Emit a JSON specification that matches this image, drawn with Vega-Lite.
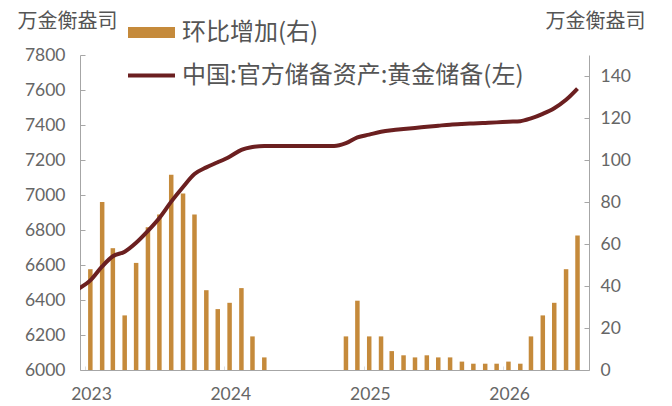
{
  "$schema": "https://vega.github.io/schema/vega-lite/v6.json",
  "width": 509,
  "height": 315,
  "autosize": {"type": "none"},
  "padding": {"left": 80, "top": 55, "right": 83, "bottom": 36},
  "background": "white",
  "config": {
    "view": {"stroke": null},
    "axis": {
      "grid": false,
      "domainColor": "#a6a6a6",
      "tickColor": "#a6a6a6",
      "labelColor": "#666666",
      "labelFont": "Lato",
      "labelFontSize": 17.5,
      "titleFont": "Noto Sans CJK SC",
      "titleFontSize": 20,
      "titleFontWeight": "normal",
      "titleColor": "#555555"
    }
  },
  "data": {
    "values": [
      {"month": "2022-12-15", "reserve": 6464, "add": null},
      {"month": "2023-01-15", "reserve": 6512, "add": 48},
      {"month": "2023-02-15", "reserve": 6592, "add": 80},
      {"month": "2023-03-15", "reserve": 6650, "add": 58},
      {"month": "2023-04-15", "reserve": 6676, "add": 26},
      {"month": "2023-05-15", "reserve": 6727, "add": 51},
      {"month": "2023-06-15", "reserve": 6795, "add": 68},
      {"month": "2023-07-15", "reserve": 6869, "add": 74},
      {"month": "2023-08-15", "reserve": 6962, "add": 93},
      {"month": "2023-09-15", "reserve": 7046, "add": 84},
      {"month": "2023-10-15", "reserve": 7120, "add": 74},
      {"month": "2023-11-15", "reserve": 7158, "add": 38},
      {"month": "2023-12-15", "reserve": 7187, "add": 29},
      {"month": "2024-01-15", "reserve": 7219, "add": 32},
      {"month": "2024-02-15", "reserve": 7258, "add": 39},
      {"month": "2024-03-15", "reserve": 7274, "add": 16},
      {"month": "2024-04-15", "reserve": 7280, "add": 6},
      {"month": "2024-05-15", "reserve": 7280, "add": 0},
      {"month": "2024-06-15", "reserve": 7280, "add": 0},
      {"month": "2024-07-15", "reserve": 7280, "add": 0},
      {"month": "2024-08-15", "reserve": 7280, "add": 0},
      {"month": "2024-09-15", "reserve": 7280, "add": 0},
      {"month": "2024-10-15", "reserve": 7280, "add": 0},
      {"month": "2024-11-15", "reserve": 7296, "add": 16},
      {"month": "2024-12-15", "reserve": 7329, "add": 33},
      {"month": "2025-01-15", "reserve": 7345, "add": 16},
      {"month": "2025-02-15", "reserve": 7361, "add": 16},
      {"month": "2025-03-15", "reserve": 7370, "add": 9},
      {"month": "2025-04-15", "reserve": 7377, "add": 7},
      {"month": "2025-05-15", "reserve": 7383, "add": 6},
      {"month": "2025-06-15", "reserve": 7390, "add": 7},
      {"month": "2025-07-15", "reserve": 7396, "add": 6},
      {"month": "2025-08-15", "reserve": 7402, "add": 6},
      {"month": "2025-09-15", "reserve": 7406, "add": 4},
      {"month": "2025-10-15", "reserve": 7409, "add": 3},
      {"month": "2025-11-15", "reserve": 7412, "add": 3},
      {"month": "2025-12-15", "reserve": 7415, "add": 3},
      {"month": "2026-01-15", "reserve": 7419, "add": 4},
      {"month": "2026-02-15", "reserve": 7422, "add": 3},
      {"month": "2026-03-15", "reserve": 7438, "add": 16},
      {"month": "2026-04-15", "reserve": 7464, "add": 26},
      {"month": "2026-05-15", "reserve": 7496, "add": 32},
      {"month": "2026-06-15", "reserve": 7544, "add": 48},
      {"month": "2026-07-15", "reserve": 7608, "add": 64}
    ]
  },
  "encoding": {
    "x": {
      "field": "month",
      "type": "temporal",
      "scale": {
        "type": "utc",
        "domain": [
          {"year": 2023, "month": 1, "date": 1, "utc": true},
          {"year": 2026, "month": 8, "date": 1, "utc": true}
        ]
      },
      "axis": {
        "title": null,
        "format": "%Y",
        "values": [
          {"year": 2023, "month": 1, "date": 1, "utc": true},
          {"year": 2024, "month": 1, "date": 1, "utc": true},
          {"year": 2025, "month": 1, "date": 1, "utc": true},
          {"year": 2026, "month": 1, "date": 1, "utc": true}
        ],
        "tickSize": -4,
        "tickColor": "#dddddd",
        "labelPadding": 19,
        "labelOffset": 6
      }
    }
  },
  "layer": [
    {
      "mark": {"type": "bar", "width": 4.5, "clip": true},
      "encoding": {
        "y": {
          "field": "add",
          "type": "quantitative",
          "scale": {"domain": [0, 150], "nice": false},
          "axis": {
            "orient": "right",
            "values": [0, 20, 40, 60, 80, 100, 120, 140],
            "format": "d",
            "title": "万金衡盎司",
            "titleAngle": 0,
            "titleAlign": "left",
            "titleBaseline": "middle",
            "titleX": -44,
            "titleY": -34,
            "tickSize": -5,
            "labelPadding": 16
          }
        },
        "color": {
          "datum": "环比增加(右)",
          "scale": {
            "domain": ["环比增加(右)", "中国:官方储备资产:黄金储备(左)"],
            "range": ["#c58a3b", "#6b1f20"]
          },
          "legend": {
            "title": null,
            "orient": "none",
            "legendX": 48,
            "legendY": -46,
            "symbolSize": 2209,
            "symbolType": "M-1,-0.234H1V0.234H-1Z",
            "labelFont": "Noto Sans CJK SC",
            "labelFontSize": 24,
            "labelColor": "#555555",
            "labelOffset": 7,
            "labelLimit": 0,
            "rowPadding": 7,
            "encode": {
              "symbols": {
                "update": {
                  "shape": {"signal": "datum.value === '环比增加(右)' ? 'M-1,-0.234H1V0.234H-1Z' : 'M-1,-0.08H1V0.08H-1Z'"},
                  "fill": {"signal": "datum.value === '环比增加(右)' ? '#c58a3b' : '#6b1f20'"},
                  "strokeWidth": {"value": 0},
                  "opacity": {"value": 1}
                }
              }
            }
          }
        }
      }
    },
    {
      "mark": {"type": "line", "interpolate": "monotone", "strokeWidth": 4, "clip": true},
      "encoding": {
        "y": {
          "field": "reserve",
          "type": "quantitative",
          "scale": {"domain": [6000, 7800], "nice": false},
          "axis": {
            "orient": "left",
            "values": [6000, 6200, 6400, 6600, 6800, 7000, 7200, 7400, 7600, 7800],
            "format": "d",
            "title": "万金衡盎司",
            "titleAngle": 0,
            "titleAlign": "left",
            "titleBaseline": "middle",
            "titleX": -63,
            "titleY": -34,
            "tickSize": -5,
            "labelPadding": 20
          }
        },
        "color": {"datum": "中国:官方储备资产:黄金储备(左)"}
      }
    }
  ],
  "resolve": {"scale": {"y": "independent"}}
}
